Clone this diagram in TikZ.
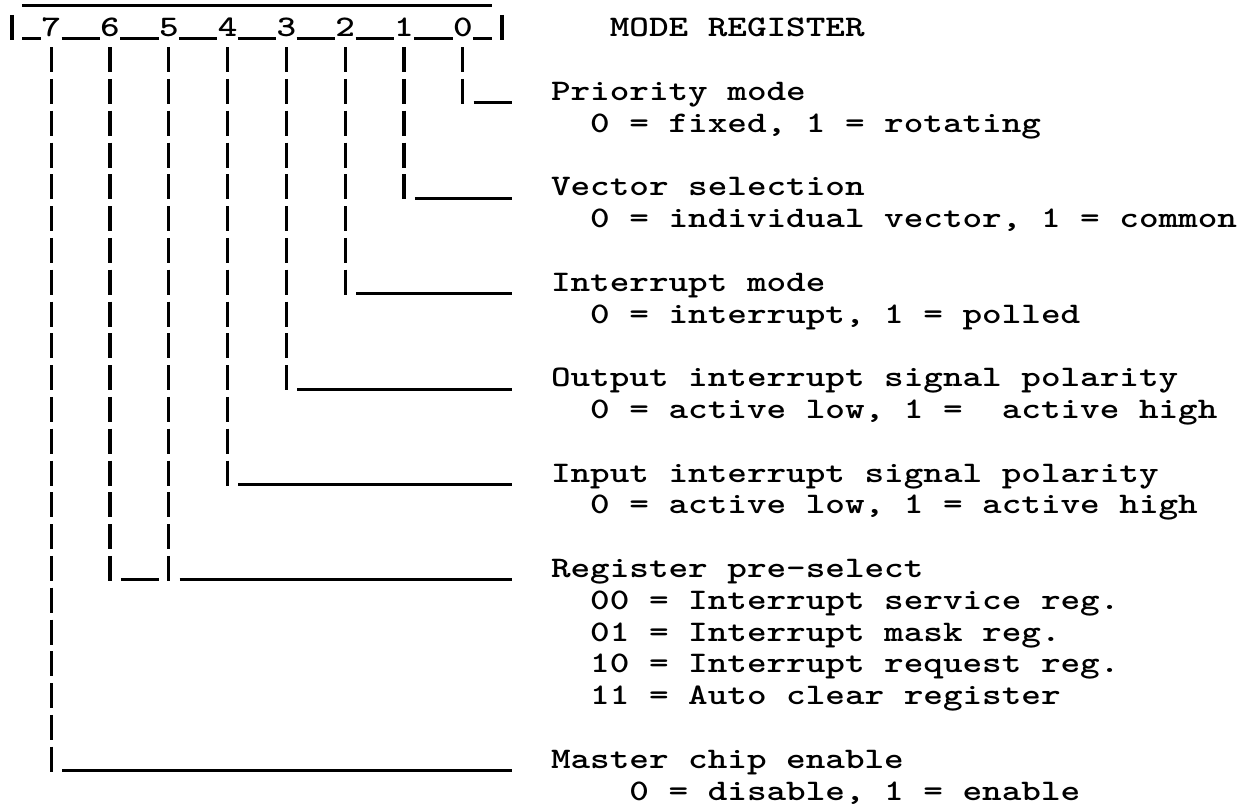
\documentclass[tikz,border=0pt]{standalone}
\usepackage{graphicx}
\newcommand\CX[1]{(12+19.6*(#1))}
\newcommand\BY[1]{(36.8+31.8*(#1))}
\newcommand\tyf{\fontsize{18.667}{20}\selectfont\ttfamily\bfseries}
\newcommand\sq[1]{\scalebox{1}[0.8]{#1}}
\tikzset{
  txt/.style={anchor=base west, inner sep=0pt, outer sep=0pt, font=\tyf},
  dig/.style={anchor=base, inner sep=0pt, outer sep=0pt, font=\tyf},
  vbar/.style={line width=1.6pt, line cap=butt, dash pattern=on 12.5pt off 3.4pt},
  hbar/.style={line width=1.5pt, line cap=butt},
}
\begin{document}
\begin{tikzpicture}[x=0.5pt,y=-0.5pt]
\fill[white] (0,0) rectangle (1260,805);
\useasboundingbox (0,0) rectangle (1260,805);

% overline
\coordinate (ovA) at ({\CX{1}-9.8},5.5);
\coordinate (ovB) at ({\CX{24}+9.8},5.5);
\draw[hbar] (ovA) -- (ovB);

% end bars of the register row
\coordinate (lbT) at ({\CX{0}},{\BY{0}-22});
\coordinate (lbB) at ({\CX{0}},{\BY{0}+3.5});
\coordinate (rbT) at ({\CX{25}},{\BY{0}-22});
\coordinate (rbB) at ({\CX{25}},{\BY{0}+3.5});
\draw[hbar,line width=1.6pt] (lbT) -- (lbB);
\draw[hbar,line width=1.6pt] (rbT) -- (rbB);

% bit digits
\foreach \n/\c in {7/2,6/5,5/8,4/11,3/14,2/17,1/20,0/23}{
  \node[dig] (d\n) at ({\CX{\c}},{\BY{0}}) {\sq{\n}};
}
% underscores between digits
\foreach \a/\b in {1/1,3/4,6/7,9/10,12/13,15/16,18/19,21/22,24/24}{
  \draw[hbar] ({\CX{\a}-9.3},{\BY{0}+2}) -- ({\CX{\b}+9.3},{\BY{0}+2});
}

% vertical connectors (bit column / last row)
\foreach \n/\c/\r in {0/23/2,1/20/5,2/17/8,3/14/11,4/11/14,5/8/17,6/5/17,7/2/23}{
  \coordinate (v\n T) at ({\CX{\c}},{\BY{1}-21.5});
  \coordinate (v\n B) at ({\CX{\c}},{\BY{\r}+3.5});
  \draw[vbar] (v\n T) -- (v\n B);
}

% horizontal leaders
\foreach \n/\a/\b/\r in {0/24/25/2,1/21/25/5,2/18/25/8,3/15/25/11,4/12/25/14,5/9/25/17,6/6/7/17,7/3/25/23}{
  \coordinate (h\n A) at ({\CX{\a}-8.8},{\BY{\r}+2.5});
  \coordinate (h\n B) at ({\CX{\b}+9.8},{\BY{\r}+2.5});
  \draw[hbar] (h\n A) -- (h\n B);
}

% texts
\node[txt] (title) at ({\CX{31}-9.8},{\BY{0}}) {\sq{MODE REGISTER}};
\node[txt] (t0) at ({\CX{28}-9.8},{\BY{2}}) {\sq{Priority mode}};
\node[txt] (t0a) at ({\CX{30}-9.8},{\BY{3}}) {\sq{0 = fixed, 1 = rotating}};
\node[txt] (t1) at ({\CX{28}-9.8},{\BY{5}}) {\sq{Vector selection}};
\node[txt] (t1a) at ({\CX{30}-9.8},{\BY{6}}) {\sq{0 = individual vector, 1 = common}};
\node[txt] (t2) at ({\CX{28}-9.8},{\BY{8}}) {\sq{Interrupt mode}};
\node[txt] (t2a) at ({\CX{30}-9.8},{\BY{9}}) {\sq{0 = interrupt, 1 = polled}};
\node[txt] (t3) at ({\CX{28}-9.8},{\BY{11}}) {\sq{Output interrupt signal polarity}};
\node[txt] (t3a) at ({\CX{30}-9.8},{\BY{12}}) {\sq{0 = active low, 1 =~ active high}};
\node[txt] (t4) at ({\CX{28}-9.8},{\BY{14}}) {\sq{Input interrupt signal polarity}};
\node[txt] (t4a) at ({\CX{30}-9.8},{\BY{15}}) {\sq{0 = active low, 1 = active high}};
\node[txt] (t5) at ({\CX{28}-9.8},{\BY{17}}) {\sq{Register pre-select}};
\node[txt] (t5a) at ({\CX{30}-9.8},{\BY{18}}) {\sq{00 = Interrupt service reg.}};
\node[txt] (t5b) at ({\CX{30}-9.8},{\BY{19}}) {\sq{01 = Interrupt mask reg.}};
\node[txt] (t5c) at ({\CX{30}-9.8},{\BY{20}}) {\sq{10 = Interrupt request reg.}};
\node[txt] (t5d) at ({\CX{30}-9.8},{\BY{21}}) {\sq{11 = Auto clear register}};
\node[txt] (t7) at ({\CX{28}-9.8},{\BY{23}}) {\sq{Master chip enable}};
\node[txt] (t7a) at ({\CX{32}-9.8},{\BY{24}}) {\sq{0 = disable, 1 = enable}};
\end{tikzpicture}
\end{document}
